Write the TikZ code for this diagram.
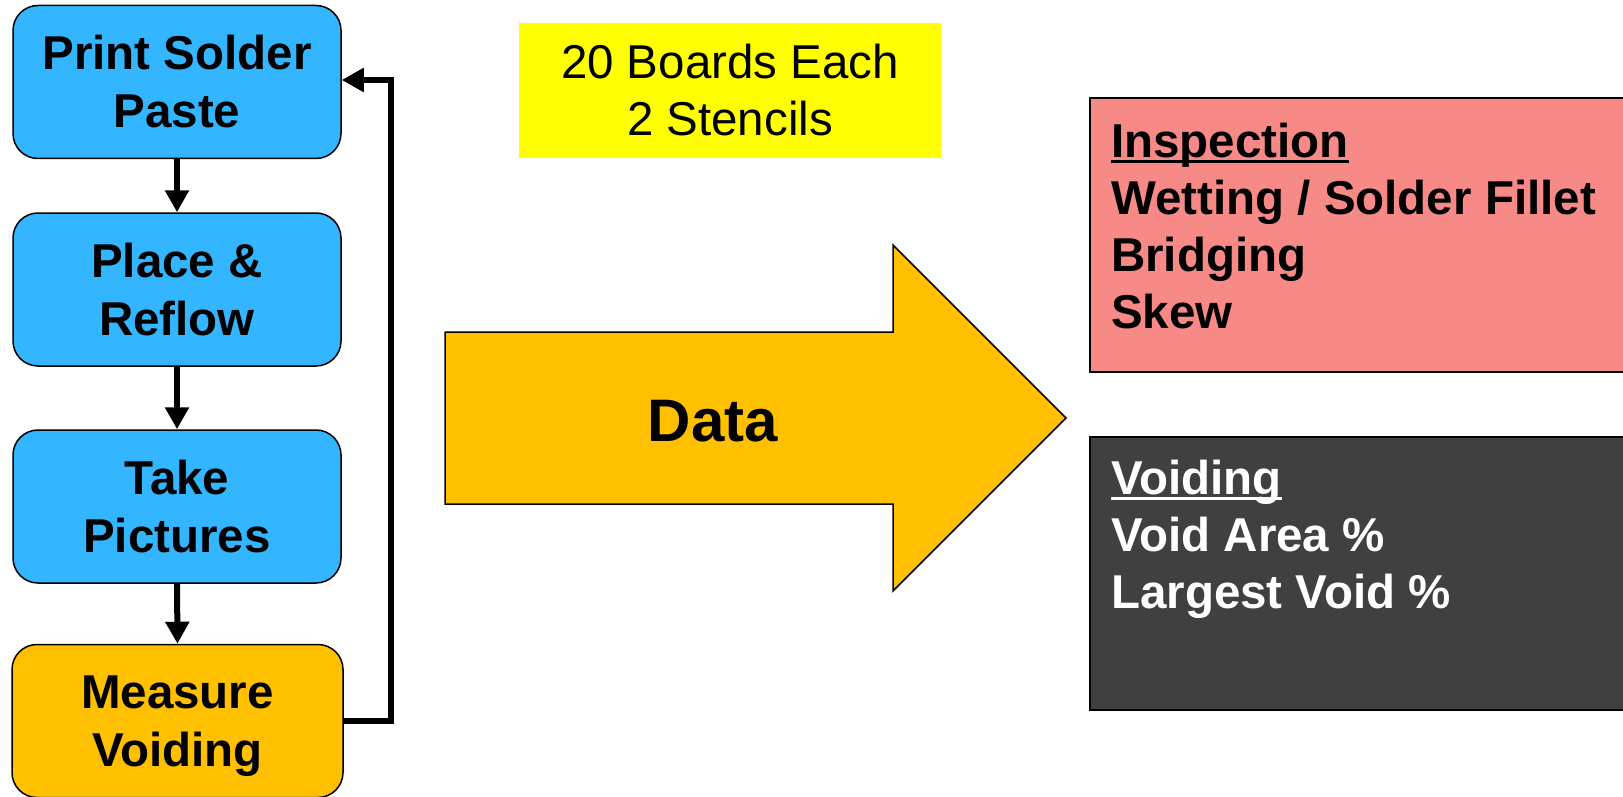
\documentclass[tikz,border=0pt]{standalone}
\usepackage{fontspec}
\setmainfont{Liberation Sans}
\usetikzlibrary{arrows.meta}
\definecolor{stepblue}{HTML}{33B5FF}
\definecolor{steporange}{HTML}{FFC000}
\definecolor{noteyellow}{HTML}{FFFF00}
\definecolor{inspink}{HTML}{F78A87}
\definecolor{voidgray}{HTML}{404040}
\newcommand{\myul}[1]{\setbox0\hbox{#1}\rlap{\rule[-5pt]{\wd0}{3pt}}\box0}
\tikzset{
  stepbox/.style={draw=black, line width=1.5pt, rounded corners=25pt,
    minimum width=328pt, minimum height=153pt, inner sep=0pt, align=center,
    font=\fontsize{47.5}{58}\selectfont\bfseries},
  flow/.style={line width=6pt, -{Triangle[width=23pt,length=22pt]}, line join=miter},
  infobox/.style={draw=black, line width=1.5pt},
  infotext/.style={anchor=north west, inner sep=0pt, align=left,
    font=\fontsize{47.5}{57}\selectfont\bfseries}
}
\begin{document}
\begin{tikzpicture}[x=1pt,y=-1pt]
\useasboundingbox (0,0) rectangle (1623,797);
% process steps
\node[stepbox, fill=stepblue] (b1) at (177,82) {Print Solder\\Paste};
\node[stepbox, fill=stepblue] (b2) at (177,289.5) {Place \&\\Reflow};
\node[stepbox, fill=stepblue] (b3) at (177,506.5) {Take\\Pictures};
\node[stepbox, fill=steporange, minimum width=331pt, text depth=0pt] (b4) at (177.5,721) {Measure\\Voiding};
\draw[flow] (b1.south) -- (b2.north);
\draw[flow] (b2.south) -- (b3.north);
\draw[flow] (b3.south) -- (b4.north);
\coordinate (lp) at (391,80);
\draw[flow] (b4.east) -| (lp) -- (b1.east |- lp);
% note
\node[fill=noteyellow, minimum width=422pt, minimum height=135pt, inner sep=0pt, align=center,
  font=\fontsize{47.5}{57}\selectfont] (note) at (730,90.5) {20 Boards Each\\2 Stencils};
% data arrow
\draw[fill=steporange, line width=1.5pt, line join=miter]
  (445,332) -- (893,332) -- (893,245) -- (1066,418) -- (893,591) -- (893,504) -- (445,504) -- cycle;
\node[inner sep=0pt, font=\fontsize{60}{72}\selectfont\bfseries] (data) at (713,421.5) {Data};
% result boxes
\draw[infobox, fill=inspink] (1090,98) rectangle (1640,372);
\node[infotext] (insp) at (1111,123) {\myul{Inspection}\\Wetting / Solder Fillet\\Bridging\\Skew};
\draw[infobox, fill=voidgray] (1090,437) rectangle (1640,710);
\node[infotext, text=white] (void) at (1111,460) {\myul{Voiding}\\Void Area \%\\Largest Void \%};
\end{tikzpicture}
\end{document}
